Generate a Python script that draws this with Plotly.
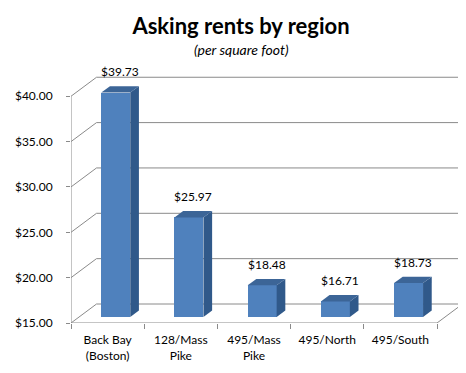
import plotly.graph_objects as go

# ---- data ----
categories = ["Back Bay<br>(Boston)", "128/Mass<br>Pike", "495/Mass<br>Pike", "495/North", "495/South"]
rents = [39.73, 25.97, 18.48, 16.71, 18.73]
y_ticks = [15, 20, 25, 30, 35, 40]

# ---- geometry / style ----
W, H = 466, 373
ML, MR, MT, MB = 63, 11, 66, 58
PX_PER_CAT = 73.2
PX_PER_USD = 9.07
X0 = -0.5
XMAX = X0 + (W - ML - MR) / PX_PER_CAT
YMIN = y_ticks[0]
YMAX = YMIN + (H - MT - MB) / PX_PER_USD

DX = 25.5 / PX_PER_CAT      # depth offset in category units
DY = 19.0 / PX_PER_USD      # depth offset in value units
F0, F1 = 0.32, 0.66          # bar front/back position within depth
BAR_W = 0.396

FRONT = "#4F81BD"
SIDE = "#30598A"
TOP = "#3C6597"
GRID = "#8A8A8A"
FONT = "Lato"

fig = go.Figure()

sx0, sy0 = F0 * DX, F0 * DY
sx1, sy1 = F1 * DX, F1 * DY
n = len(categories)
xs = list(range(n))

# front faces
fig.add_trace(go.Bar(
    x=[i + sx0 for i in xs],
    y=[v - YMIN for v in rents],
    base=[YMIN + sy0] * n,
    width=BAR_W,
    marker=dict(color=FRONT, line=dict(width=0)),
    hoverinfo="skip", showlegend=False,
))

# side and top faces
for i, v in zip(xs, rents):
    xl = i - BAR_W / 2 + sx0
    xr = i + BAR_W / 2 + sx0
    d = sx1 - sx0
    fig.add_trace(go.Scatter(
        x=[xr, xr, xr + d, xr + d, xr],
        y=[YMIN + sy0, v + sy0, v + sy1, YMIN + sy1, YMIN + sy0],
        fill="toself", fillcolor=SIDE, mode="lines", line=dict(width=0, color=SIDE),
        hoverinfo="skip", showlegend=False,
    ))
    fig.add_trace(go.Scatter(
        x=[xl, xr, xr + d, xl + d, xl],
        y=[v + sy0, v + sy0, v + sy1, v + sy1, v + sy0],
        fill="toself", fillcolor=TOP, mode="lines", line=dict(width=0, color=TOP),
        hoverinfo="skip", showlegend=False,
    ))
    fig.add_annotation(
        x=(xl + xr + d) / 2, y=v + sy1, text=f"${v:.2f}",
        showarrow=False, yanchor="bottom", xanchor="center", yshift=5,
        font=dict(family=FONT, size=12, color="#000000"),
    )

shapes = []
line = dict(color=GRID, width=1)
# back wall gridlines and side wall diagonals
for t in y_ticks:
    shapes.append(dict(type="line", xref="x", yref="y", x0=X0 + DX, x1=X0 + n + DX,
                       y0=t + DY, y1=t + DY, line=line, layer="below"))
    shapes.append(dict(type="line", xref="x", yref="y", x0=X0, x1=X0 + DX,
                       y0=t, y1=t + DY, line=line, layer="below"))
# floor right edge
shapes.append(dict(type="line", xref="x", yref="y", x0=X0 + n, x1=X0 + n + DX,
                   y0=YMIN, y1=YMIN + DY, line=line, layer="below"))
# front axes
shapes.append(dict(type="line", xref="x", yref="y", x0=X0, x1=X0 + n,
                   y0=YMIN, y1=YMIN, line=line, layer="below"))
shapes.append(dict(type="line", xref="x", yref="y", x0=X0, x1=X0,
                   y0=YMIN, y1=y_ticks[-1], line=line, layer="below"))

fig.update_layout(
    width=W, height=H,
    margin=dict(l=ML, r=MR, t=MT, b=MB, pad=0, autoexpand=False),
    paper_bgcolor="white", plot_bgcolor="white",
    shapes=shapes,
    title=dict(text="<b>Asking rents by region</b>", x=0.5, xanchor="center",
               xref="container", y=1 - 18 / H, yref="container", yanchor="middle",
               font=dict(family=FONT, size=22, color="#000000")),
    xaxis=dict(range=[X0, XMAX], tickvals=xs, ticktext=categories,
               ticks="", showgrid=False, zeroline=False, showline=False,
               automargin=False,
               tickfont=dict(family=FONT, size=12, color="#000000"),
               ticklabelstandoff=8,
               minor=dict(tickvals=[X0 + k for k in range(n + 1)], ticks="outside",
                          ticklen=5, tickcolor=GRID, showgrid=False)),
    yaxis=dict(range=[YMIN, YMAX], tickvals=y_ticks,
               ticktext=[f"${t:.2f}" for t in y_ticks],
               ticks="outside", ticklen=4, tickcolor=GRID, showgrid=False,
               zeroline=False, showline=False, ticklabelstandoff=11,
               automargin=False,
               tickfont=dict(family=FONT, size=12, color="#000000")),
    bargap=0,
)

fig.add_annotation(
    x=(W / 2 - ML) / (W - ML - MR), xref="paper",
    y=(H - MB - 41.5) / (H - MT - MB), yref="paper",
    text="<i>(per square foot)</i>", showarrow=False, xanchor="center", yanchor="middle",
    font=dict(family=FONT, size=14, color="#000000"),
)

fig.write_html("out.html")
